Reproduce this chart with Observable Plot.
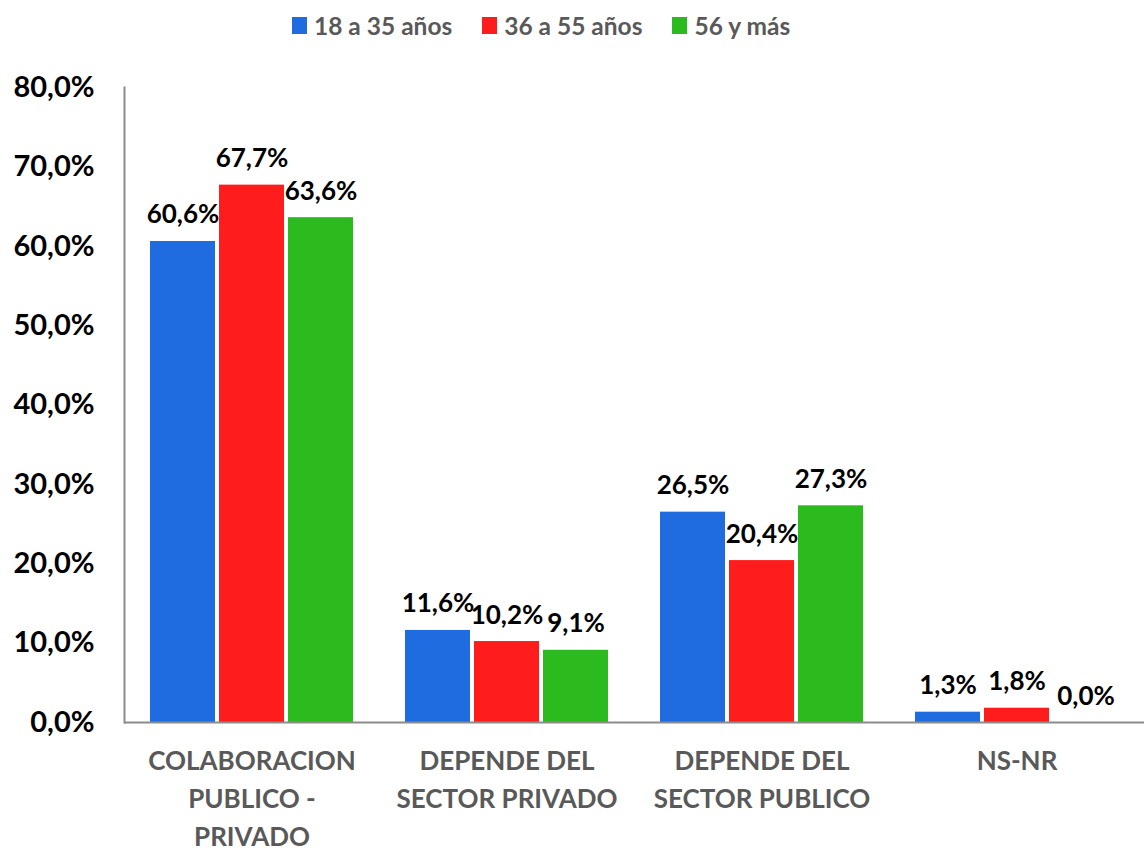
<!DOCTYPE html>
<html><head><meta charset="utf-8">
<script src="https://cdn.jsdelivr.net/npm/d3@7"></script>
<script src="https://cdn.jsdelivr.net/npm/@observablehq/plot@0.6"></script>
<style>
body{margin:0;background:#fff;font-family:Lato,sans-serif;}
#legend{height:50px;display:flex;align-items:center;padding-left:292px;box-sizing:border-box;}
#legend > *{margin:0 !important;}
#legend span{margin-right:30px !important;}
#legend span svg{margin-right:7px !important;}
</style></head><body>
<div id="legend"></div>
<div id="chart"></div>
<script>
const categories = ["COLABORACION PUBLICO - PRIVADO", "DEPENDE DEL SECTOR PRIVADO", "DEPENDE DEL SECTOR PUBLICO", "NS-NR"];
const categoryLabels = ["COLABORACION\nPUBLICO -\nPRIVADO", "DEPENDE DEL\nSECTOR PRIVADO", "DEPENDE DEL\nSECTOR PUBLICO", "NS-NR"];
const series = ["18 a 35 años", "36 a 55 años", "56 y más"];
const colors = ["#1f6be0", "#ff1c1c", "#2bbb1f"];
const v18a35 = [60.6, 11.6, 26.5, 1.3];
const v36a55 = [67.7, 10.2, 20.4, 1.8];
const v56mas = [63.6, 9.1, 27.3, 0.0];
const yTicks = [0, 10, 20, 30, 40, 50, 60, 70, 80];

const seriesValues = [v18a35, v36a55, v56mas];
const rows = [];
categories.forEach((c, i) => series.forEach((s, j) => rows.push({cat: c, serie: s, value: seriesValues[j][i]})));
const fmt = v => v.toFixed(1).replace(".", ",") + "%";

const chart = Plot.plot({
  width: 1144, height: 802,
  marginTop: 37, marginBottom: 130, marginLeft: 123, marginRight: 0,
  style: {fontFamily: "Lato, sans-serif", background: "#fff"},
  fx: {domain: categories, padding: 0, label: null},
  x: {domain: series, paddingInner: 0.057, paddingOuter: 0.35, axis: null},
  y: {domain: [0, 80], axis: null},
  color: {domain: series, range: colors},
  marks: [
    Plot.barY(rows, {fx: "cat", x: "serie", y: "value", fill: "serie"}),
    Plot.ruleY([0], {stroke: "#8c8c8c", strokeWidth: 2}),
    Plot.text(rows, {fx: "cat", x: "serie", y: "value", text: d => fmt(d.value), lineAnchor: "bottom", dy: -18, fontSize: 26, fontWeight: "bold", fill: "black"}),
    Plot.axisY(yTicks, {tickSize: 0, tickPadding: 30, tickFormat: fmt, fontSize: 29, fontWeight: "bold", color: "black", label: null}),
    Plot.axisFx({anchor: "bottom", tickSize: 0, tickPadding: 21, tickFormat: c => categoryLabels[categories.indexOf(c)], fontSize: 26, fontWeight: "bold", color: "#595959", lineHeight: 1.45, label: null}),
    Plot.frame({anchor: "left", stroke: "#8c8c8c", strokeWidth: 2, facetAnchor: "left"})
  ]
});
document.getElementById("chart").appendChild(chart);

const leg = Plot.legend({color: {domain: series, range: colors}, legend: "swatches", swatchWidth: 15, swatchHeight: 17,
  style: {fontSize: "24.5px", fontWeight: "bold", color: "#595959", fontFamily: "Lato, sans-serif"}});
document.getElementById("legend").appendChild(leg);
</script>
</body></html>
